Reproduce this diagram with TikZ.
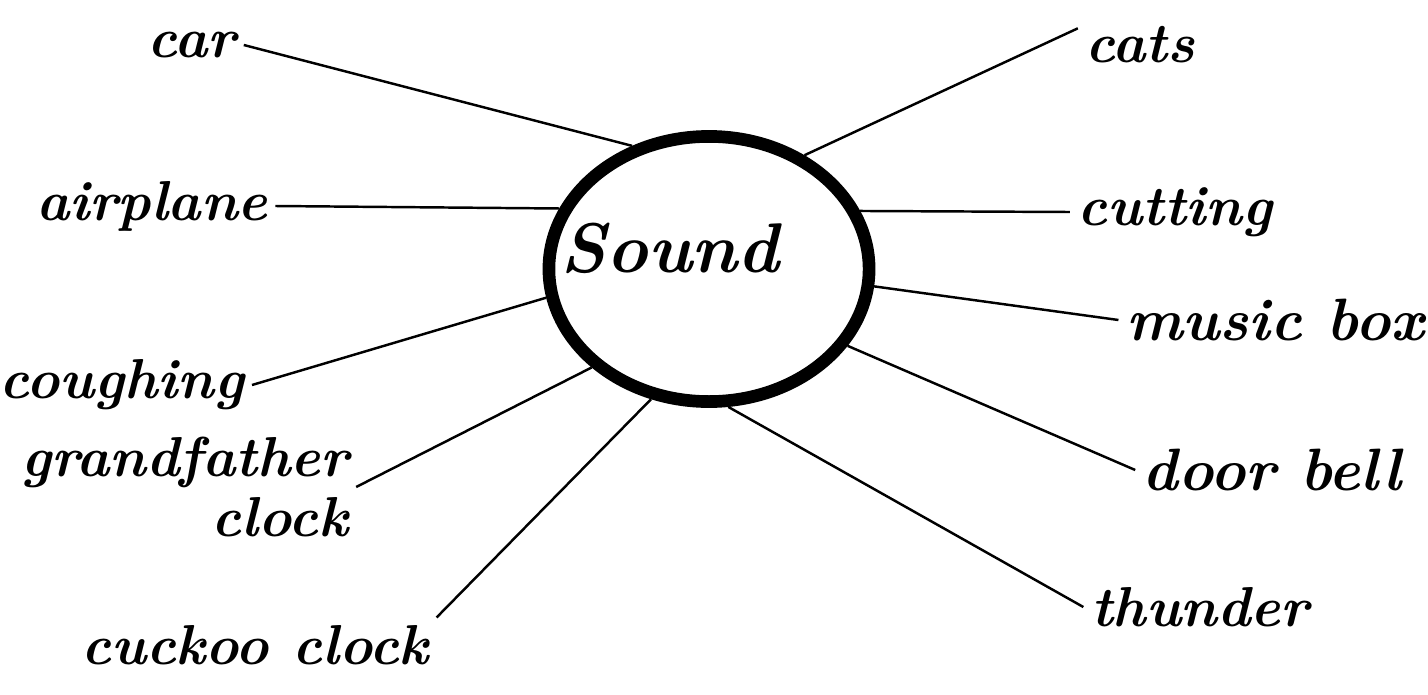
\documentclass[tikz,border=0pt]{standalone}
\usetikzlibrary{shapes.geometric}
\begin{document}
\begin{tikzpicture}[x=0.01cm, y=-0.01cm,
  word/.style={font=\fontsize{16}{16}\selectfont\bfseries\itshape, inner sep=2pt},
  ring/.style={draw, ellipse, line width=3.6pt, minimum width=3.2cm,
               minimum height=2.65cm, inner sep=0pt},
  spoke/.style={line width=0.7pt}
]
\useasboundingbox (0,0) rectangle (1428,694);

\node[ring] (snd) at (709,269) {};
\node[font=\fontsize{20}{20}\selectfont\bfseries\itshape] (sndtxt) at (670,248) {Sound};

%% left side
\node[word] (car) at (192,45) {car};
\node[word] (air) at (152,206) {airplane};
\node[word] (cough) at (122,385) {coughing};
\node[word, align=right] (gfc) at (185,487) {grandfather\\[1pt]clock};
\node[word] (cuckoo) at (255,645) {cuckoo clock};

%% right side
\node[word] (cats) at (1140,45) {cats};
\node[word] (cut) at (1175,212) {cutting};
\node[word, font=\fontsize{17}{17}\selectfont\bfseries\itshape] (mus) at (1275,320) {music box};
\node[word, font=\fontsize{17}{17}\selectfont\bfseries\itshape] (door) at (1272,470) {door bell};
\node[word] (thu) at (1200,607) {thunder};

\foreach \a/\w in {122/car.east, 158/air.east, 190/cough.east, 220/gfc.east,
                   246/cuckoo.north east, 50/cats.165, 21/cut.west,
                   354/mus.west, 331/door.west, 278/thu.west}
  \draw[spoke] (snd.\a) -- (\w);

\end{tikzpicture}
\end{document}
